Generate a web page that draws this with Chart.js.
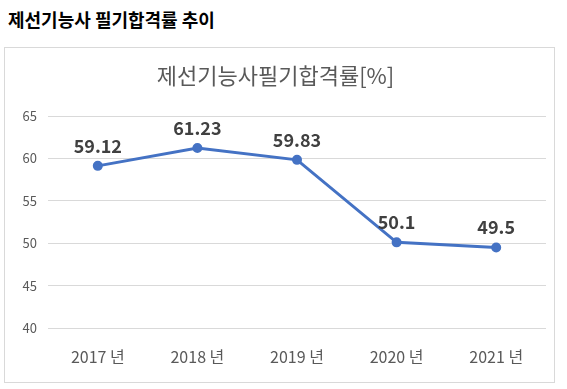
<!DOCTYPE html>
<html>
<head>
<meta charset="utf-8">
<script src="https://cdn.jsdelivr.net/npm/chart.js@4"></script>
<style>
  body { margin: 0; background: #fff; font-family: "Noto Sans CJK KR", "Noto Sans", sans-serif; }
  #heading { position: absolute; left: 8px; top: 6px; font-size: 18px; font-weight: bold; color: #000; }
  #box { position: absolute; left: 4px; top: 47px; width: 549px; height: 334px; border: 1px solid #d9d9d9; }
  #myChart { display: block; }
</style>
</head>
<body>
<div id="heading">제선기능사 필기합격률 추이</div>
<div id="box"><canvas id="myChart" width="549" height="334"></canvas></div>
<script>
// chart data
const years = ['2017 년', '2018 년', '2019 년', '2020 년', '2021 년'];
const passRates = [59.12, 61.23, 59.83, 50.1, 49.5];
const rateLabels = ['59.12', '61.23', '59.83', '50.1', '49.5'];

const FONT = '"Noto Sans CJK KR", "Noto Sans", sans-serif';

// draws the value above each point
const valueLabels = {
    id: 'valueLabels',
    afterDatasetsDraw(chart) {
        const ctx = chart.ctx;
        const meta = chart.getDatasetMeta(0);
        ctx.save();
        ctx.font = 'bold 18px ' + FONT;
        ctx.fillStyle = '#404040';
        ctx.textAlign = 'center';
        ctx.textBaseline = 'middle';
        meta.data.forEach(function (pt, i) {
            ctx.fillText(rateLabels[i], pt.x, pt.y - 20);
        });
        ctx.restore();
    }
};

const ctx = document.getElementById('myChart').getContext('2d');
new Chart(ctx, {
    type: 'line',
    data: {
        labels: years,
        datasets: [{
            data: passRates,
            borderColor: '#4472C4',
            backgroundColor: '#4472C4',
            borderWidth: 3,
            pointRadius: 3.5,
            tension: 0
        }]
    },
    options: {
        responsive: false,
        animation: false,
        layout: { padding: { left: 0, right: 8, top: 0, bottom: 15 } },
        plugins: {
            legend: { display: false },
            tooltip: { enabled: false },
            title: {
                display: true,
                text: '제선기능사필기합격률[%]',
                color: '#595959',
                font: { family: FONT, size: 22, weight: 'normal', lineHeight: 1.2 },
                padding: { top: 14, bottom: 27.6 }
            }
        },
        scales: {
            x: {
                offset: true,
                grid: { display: false, drawTicks: false },
                border: { display: false },
                ticks: { color: '#595959', font: { family: FONT, size: 16 }, padding: 19, maxRotation: 0 },
                afterFit: function (s) { s.height = 39; }
            },
            y: {
                min: 40,
                max: 65,
                ticks: { stepSize: 5, color: '#595959', font: { family: FONT, size: 13 }, padding: 11 },
                grid: { color: '#d9d9d9', drawTicks: false },
                border: { display: false },
                afterFit: function (s) { s.width = 43; }
            }
        }
    },
    plugins: [valueLabels]
});
</script>
</body>
</html>
